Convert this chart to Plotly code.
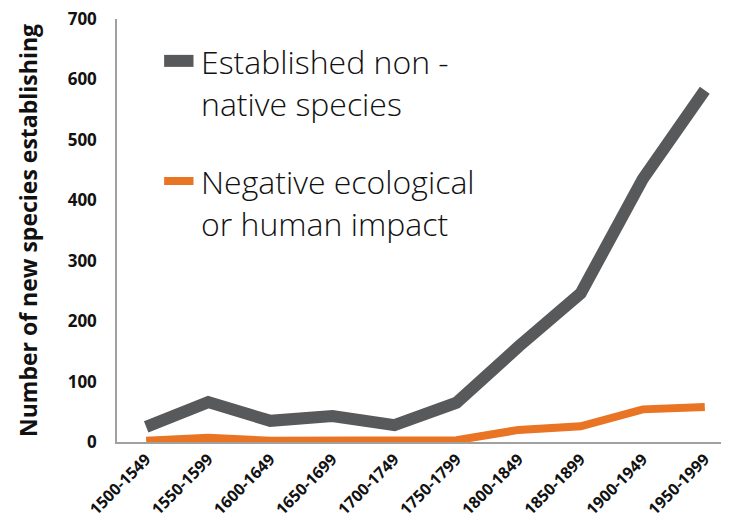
import plotly.graph_objects as go

# periods on the x axis
periods = ["1500-1549", "1550-1599", "1600-1649", "1650-1699", "1700-1749",
           "1750-1799", "1800-1849", "1850-1899", "1900-1949", "1950-1999"]

# number of new species establishing
established = [25, 66, 35, 43, 28, 65, 158, 246, 435, 582]
negative_impact = [2, 7, 2, 2, 3, 3, 20, 26, 54, 58]

GREY = "#58595b"
ORANGE = "#e87424"

fig = go.Figure()

fig.add_trace(go.Scatter(
    x=periods, y=established, mode="lines",
    name="Established non-native species",
    line=dict(color=GREY, width=12),
    cliponaxis=False,
))
fig.add_trace(go.Scatter(
    x=periods, y=negative_impact, mode="lines",
    name="Negative ecological or human impact",
    line=dict(color=ORANGE, width=8),
    cliponaxis=False,
))

# legend drawn by hand (big text next to short thick swatches)
legend_items = [
    (GREY, 12, 0.901, 0.851, "Established non -", "native species"),
    (ORANGE, 8, 0.617, 0.567, "Negative ecological", "or human impact"),
]
for color, w, ysw, ytxt, line1, line2 in legend_items:
    fig.add_shape(type="line", xref="paper", yref="paper",
                  x0=0.077, x1=0.125, y0=ysw, y1=ysw,
                  line=dict(color=color, width=w))
    fig.add_annotation(xref="paper", yref="paper", x=0.134, y=ytxt,
                       text=line1 + "<br>" + line2, showarrow=False,
                       xanchor="left", yanchor="middle", align="left",
                       font=dict(family="Open Sans", size=32, color="#111111",
                                 weight=300))

fig.update_xaxes(
    type="category",
    range=[-0.47, 9.39],
    tickangle=-45,
    showgrid=False,
    automargin=False,
    showline=True, linecolor="#a0a0a0", linewidth=1.5,
    ticklabeloverflow="allow",
    tickfont=dict(family="Open Sans", size=16, color="#111111", weight="bold"),
)
fig.update_yaxes(
    range=[0, 700],
    dtick=100,
    showgrid=False,
    zeroline=False,
    automargin=False,
    showline=True, linecolor="#a0a0a0", linewidth=1.5,
    ticklabelstandoff=15,
    ticklabeloverflow="allow",
    tickfont=dict(family="Open Sans", size=17, color="#111111", weight="bold"),
    title=dict(text="Number of new species establishing", standoff=24,
               font=dict(family="Open Sans", size=23, color="#111111", weight="bold")),
)

# the page adds an 8px body margin, so the figure is sized to fit beside it
fig.update_layout(
    width=721, height=524,
    margin=dict(l=109, r=0, t=11, b=90),
    plot_bgcolor="white", paper_bgcolor="white",
    showlegend=False,
)

fig.write_html("out.html")
